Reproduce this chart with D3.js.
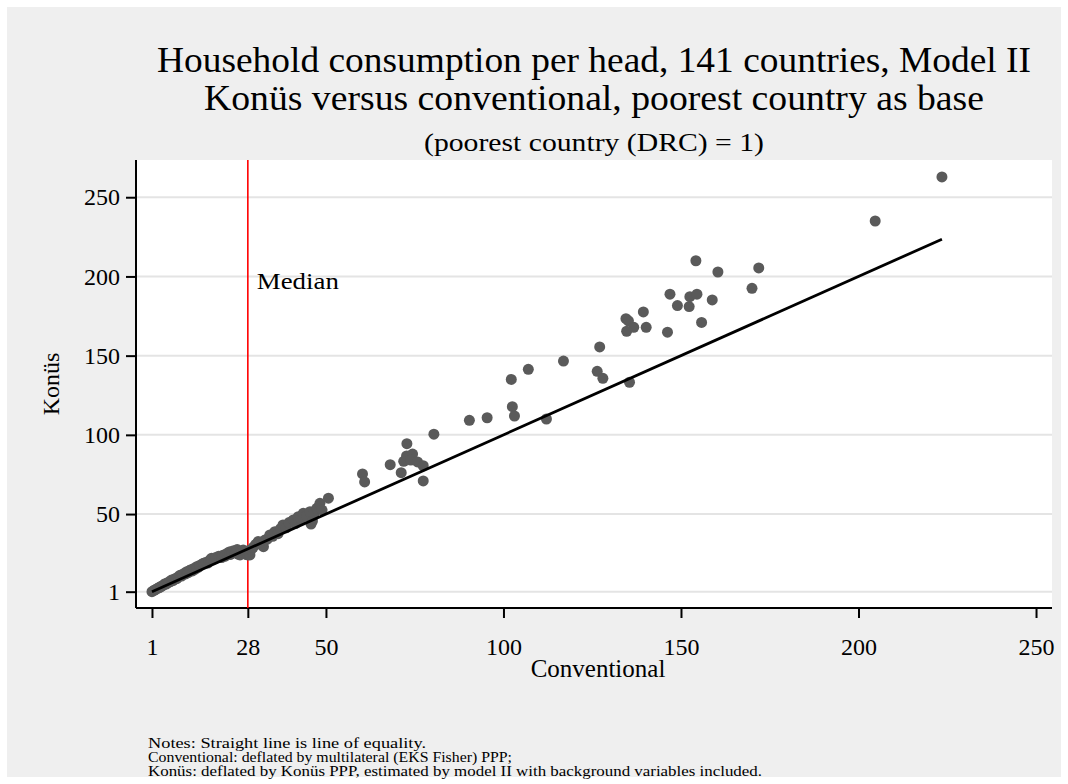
<!DOCTYPE html>
<html>
<head>
<meta charset="utf-8">
<script src="https://cdn.jsdelivr.net/npm/d3@7"></script>
<style>
  body { margin: 0; background: #ffffff; }
  text { font-family: "Liberation Serif", "Times New Roman", serif; fill: #000; }
</style>
</head>
<body>
<div id="graph"></div>
<script>

// values: conventional (x) and Konus (y), poorest country = 1
var conventional = [
  1, 1.6, 2.2, 2.7, 3.1, 3.5, 3.9, 4.3, 4.7, 5.0, 5.4, 5.8, 6.2, 6.5, 6.9, 7.3, 7.6, 8.0, 8.4, 8.9,
  9.3, 9.7, 10.1, 10.5, 10.8, 11.2, 11.6, 12.0, 12.4, 12.8, 13.2, 13.6, 14.0, 14.4, 15.2, 15.5, 16.3, 16.7,
  17.1, 17.5, 17.8, 18.6, 19.0, 19.8, 20.2, 20.6, 21.0, 21.5, 21.9, 22.4, 23.0, 23.0, 23.5, 24.0,
  24.5, 25.0, 25.4, 25.8, 26.3, 26.7, 27.2, 27.6, 28.0, 28.1, 28.6, 28.9,
  29.5, 30.2, 30.9, 31.4, 31.9, 32.4, 32.8, 33.5, 34.2, 35.0, 35.6, 36.5, 37.2, 37.9, 38.8, 39.6,
  40.8, 41.4, 42.2, 43.0, 43.6, 44.5, 45.5, 45.8, 46.2, 46.6, 47.4, 48.3, 48.9, 50.7,
  60.3, 60.9, 68.1, 71.2, 72.8, 71.9, 72.7, 74.4, 73.9, 75.8, 77.4, 77.4, 80.4, 90.4, 95.4, 102.5, 103.1,
  102.2, 107, 112.1, 116.9, 127.1, 126.4, 128, 135.5,
  134.5, 135.2, 136.7, 140.2, 134.7, 146.2, 139.4, 146.9, 149, 152.3, 152.5, 154.5, 155.8, 158.8,
  154.2, 160.4, 170, 171.9, 204.7, 223.5
];
var konus = [
  1, 1.9, 2.6, 3.3, 3.6, 4.2, 4.6, 5.3, 6.0, 5.8, 6.6, 7.1, 7.4, 8.3, 8.0, 8.9, 9.3, 9.2, 10.4, 11.3,
  10.9, 11.9, 12.6, 12.2, 13.6, 13.1, 14.4, 14.9, 14.1, 15.7, 15.2, 16.8, 16.3, 17.6, 18.5, 18.9, 19.6, 19.1,
  20.4, 21.3, 22.1, 21.7, 22.6, 23.4, 23.1, 22.5, 24.0, 23.3, 24.8, 25.5, 26.2, 24.4, 25.1, 26.9,
  25.8, 27.6, 24.6, 24.2, 26.5, 27.3, 25.2, 24.4, 24.2, 26.8, 24.2, 27.5,
  29.0, 30.8, 32.6, 31.9, 30.5, 29.4, 33.6, 34.2, 36.8, 36.0, 38.9, 37.6, 40.8, 43.1, 41.3, 44.6,
  46.3, 44.0, 48.3, 47.0, 50.5, 48.7, 51.5, 43.7, 45.6, 50.1, 53.6, 56.8, 52.5, 60.0,
  75.3, 70.3, 81.2, 76.1, 94.4, 83.3, 86.7, 87.9, 84.1, 82.9, 80.5, 70.9, 100.4, 109.2, 110.8, 117.8, 111.9,
  135, 141.4, 110, 146.6, 155.5, 140.1, 135.7, 133.2,
  173.3, 172, 167.9, 167.9, 165.4, 164.8, 177.6, 188.8, 181.6, 181, 187.2, 188.8, 171, 185.2,
  209.9, 202.8, 192.5, 205.4, 235, 262.8
];

var xTicks = [1, 28, 50, 100, 150, 200, 250];
var yTicks = [1, 50, 100, 150, 200, 250];
var medianValue = 28;

var titleLines = [
  "Household consumption per head, 141 countries, Model II",
  "Konüs versus conventional, poorest country as base"
];
var subtitle = "(poorest country (DRC) = 1)";
var notes = [
  "Notes: Straight line is line of equality.",
  "Conventional: deflated by multilateral (EKS Fisher) PPP;",
  "Konüs: deflated by Konüs PPP, estimated by model II with background variables included."
];
var notesWidth = [278, 364, 614];

var data = conventional.map(function(c, i) { return {x: c, y: konus[i]}; });

// set the dimensions and margins of the graph
var W = 1068, H = 784;
var margin = {top: 160, right: 16, bottom: 176, left: 136},
    width = W - margin.left - margin.right,
    height = H - margin.top - margin.bottom;

var root = d3.select("#graph")
  .append("svg")
    .attr("width", W)
    .attr("height", H);

// outer grey background
root.append("rect")
  .attr("x", 7).attr("y", 7)
  .attr("width", W - 14).attr("height", H - 14)
  .attr("fill", "#efefef");

var svg = root.append("g")
    .attr("transform", "translate(" + margin.left + "," + margin.top + ")");

svg.append("rect")
  .attr("width", width).attr("height", height)
  .attr("fill", "#ffffff");

var x = d3.scaleLinear()
  .domain([-3.5, 254.5])
  .range([0, width]);

var y = d3.scaleLinear()
  .domain([-9.3, 273.5])
  .range([height, 0]);

// grid
svg.append("g")
  .selectAll("line")
  .data(yTicks)
  .enter().append("line")
    .attr("x1", 0).attr("x2", width)
    .attr("y1", function(d) { return y(d); })
    .attr("y2", function(d) { return y(d); })
    .attr("stroke", "#e4e4e4")
    .attr("stroke-width", 2);

// X axis
var xAxis = svg.append("g")
  .attr("transform", "translate(0," + height + ")")
  .call(d3.axisBottom(x).tickValues(xTicks).tickSize(10).tickPadding(20).tickFormat(d3.format("d")));

// Y axis
var yAxis = svg.append("g")
  .call(d3.axisLeft(y).tickValues(yTicks).tickSize(10).tickPadding(6).tickFormat(d3.format("d")));

[xAxis, yAxis].forEach(function(a) {
  a.select(".domain").attr("stroke", "#000").attr("stroke-width", 2);
  a.selectAll(".tick line").attr("stroke", "#000").attr("stroke-width", 2);
  a.selectAll(".tick text")
    .style("font-family", "'Liberation Serif', serif")
    .style("font-size", "24px")
    .attr("fill", "#000");
});
xAxis.select(".domain").attr("d", "M0,0H" + width);
yAxis.select(".domain").attr("d", "M0,0V" + height);

// median line
svg.append("line")
  .attr("x1", x(medianValue)).attr("x2", x(medianValue))
  .attr("y1", 0).attr("y2", height)
  .attr("stroke", "#ff0000")
  .attr("stroke-width", 1.6);

svg.append("text")
  .attr("x", x(medianValue) + 9)
  .attr("y", y(198) + 9)
  .attr("textLength", 82).attr("lengthAdjust", "spacingAndGlyphs")
  .style("font-size", "23px")
  .text("Median");

// dots
svg.append("g")
  .selectAll("circle")
  .data(data)
  .enter().append("circle")
    .attr("cx", function(d) { return x(d.x); })
    .attr("cy", function(d) { return y(d.y); })
    .attr("r", 5.5)
    .attr("fill", "#5a5a5a");

// line of equality from min to max of conventional
var xr = d3.extent(conventional);
svg.append("line")
  .attr("x1", x(xr[0])).attr("y1", y(xr[0]))
  .attr("x2", x(xr[1])).attr("y2", y(xr[1]))
  .attr("stroke", "#000")
  .attr("stroke-width", 2.8);

// titles
var cx = margin.left + width / 2;
root.append("text")
  .attr("x", cx).attr("y", 72)
  .attr("text-anchor", "middle")
  .attr("textLength", 874).attr("lengthAdjust", "spacingAndGlyphs")
  .style("font-size", "36px")
  .text(titleLines[0]);
root.append("text")
  .attr("x", cx).attr("y", 110)
  .attr("text-anchor", "middle")
  .attr("textLength", 780).attr("lengthAdjust", "spacingAndGlyphs")
  .style("font-size", "36px")
  .text(titleLines[1]);
root.append("text")
  .attr("x", cx).attr("y", 151)
  .attr("text-anchor", "middle")
  .attr("textLength", 340).attr("lengthAdjust", "spacingAndGlyphs")
  .style("font-size", "26px")
  .text(subtitle);

// axis titles
root.append("text")
  .attr("x", cx + 4).attr("y", 677)
  .attr("text-anchor", "middle")
  .style("font-size", "25px")
  .text("Conventional");
root.append("text")
  .attr("transform", "translate(59," + (margin.top + height / 2) + ") rotate(-90)")
  .attr("text-anchor", "middle")
  .style("font-size", "24px")
  .text("Konüs");

// notes
root.append("g")
  .selectAll("text")
  .data(notes)
  .enter().append("text")
    .attr("x", 148)
    .attr("y", function(d, i) { return 748 + i * 14; })
    .attr("textLength", function(d, i) { return notesWidth[i]; })
    .attr("lengthAdjust", "spacingAndGlyphs")
    .style("font-size", "14px")
    .text(function(d) { return d; });

</script>
</body>
</html>
